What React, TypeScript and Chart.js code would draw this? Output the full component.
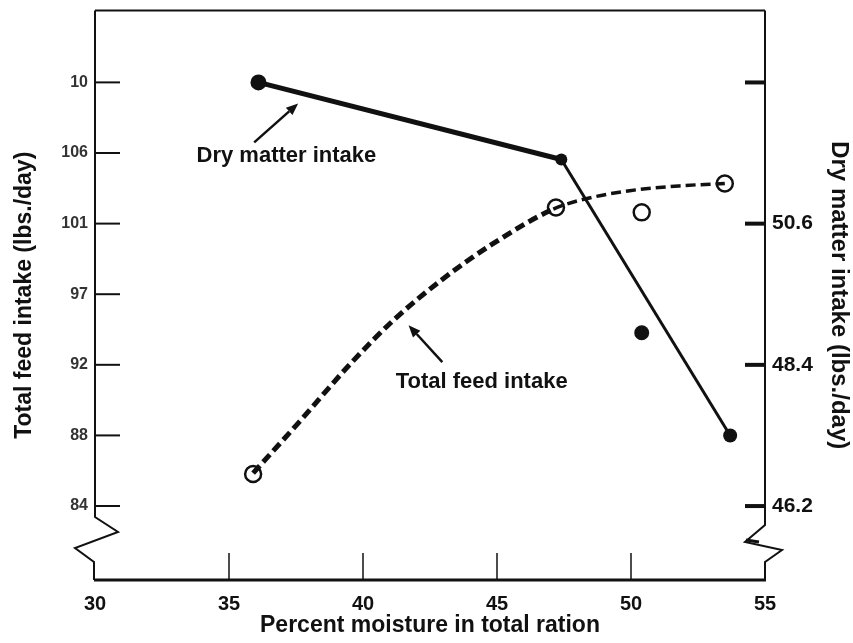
import React, { useEffect, useRef } from "react";
import { Chart, registerables } from "chart.js";

Chart.register(...registerables);

// ---- data ----
const xTickValues = [30, 35, 40, 45, 50, 55];
const leftTickValues = [84, 88.4, 92.8, 97.2, 101.6, 106, 110.4];
const leftTickLabels = ["84", "88", "92", "97", "101", "106", "10"];
const rightTickValues = [46.2, 48.4, 50.6, 52.8];
const rightTickLabels = ["46.2", "48.4", "50.6", ""];

// Dry matter intake (right axis), connected by a solid line
const dryMoisture = [36.1, 47.4, 53.7];
const dryIntake = [52.8, 51.6, 47.3];
// Dry matter intake point off the line
const dryOffMoisture = [50.4];
const dryOffIntake = [48.9];

// Total feed intake observations (left axis), open circles
const feedMoisture = [35.9, 47.2, 50.4, 53.5];
const feedIntake = [86.0, 102.6, 102.3, 104.1];

// Total feed intake fitted curve (dashed)
const feedCurveMoisture = [35.9, 37.6, 39.55, 41.15, 42.9, 44.85, 47.1, 48.2, 49.95, 51.8, 53.5];
const feedCurveIntake = [86.05, 89.2, 92.9, 95.6, 98.05, 100.35, 102.5, 103.1, 103.65, 103.95, 104.1];

const FONT = '"Liberation Sans", Arial, sans-serif';
const INK = "#111";

const xy = (xs: number[], ys: number[]) => xs.map((x, i) => ({ x, y: ys[i] }));

function drawArrow(ctx: CanvasRenderingContext2D, x1: number, y1: number, x2: number, y2: number) {
  const ang = Math.atan2(y2 - y1, x2 - x1);
  const hl = 12;
  const hw = 5;
  const bx = x2 - hl * Math.cos(ang);
  const by = y2 - hl * Math.sin(ang);
  ctx.lineWidth = 2.5;
  ctx.beginPath();
  ctx.moveTo(x1, y1);
  ctx.lineTo(bx, by);
  ctx.stroke();
  ctx.beginPath();
  ctx.moveTo(x2, y2);
  ctx.lineTo(bx + hw * Math.sin(ang), by - hw * Math.cos(ang));
  ctx.lineTo(bx - hw * Math.sin(ang), by + hw * Math.cos(ang));
  ctx.closePath();
  ctx.fill();
}

// annotation anchors in data coordinates (x: moisture, y: left axis)
const annotationItems = [
  { text: "Dry matter intake", tx: 33.79, ty: 105.42, ax1: 35.94, ay1: 106.66, ax2: 37.58, ay2: 109.09 },
  { text: "Total feed intake", tx: 41.22, ty: 91.35, ax1: 42.96, ay1: 92.97, ax2: 41.7, ay2: 95.27 },
];

const framePlugin = {
  id: "frame",
  afterDraw(chart: any) {
    const ctx: CanvasRenderingContext2D = chart.ctx;
    const { left: L, right: R, top: T, bottom: B } = chart.chartArea;
    const xs = chart.scales.x;
    const yl = chart.scales.yLeft;
    const yr = chart.scales.yRight;
    ctx.save();
    ctx.strokeStyle = INK;
    ctx.fillStyle = INK;
    ctx.lineCap = "butt";
    ctx.lineJoin = "miter";

    // top line
    ctx.lineWidth = 2;
    ctx.beginPath();
    ctx.moveTo(L, T);
    ctx.lineTo(R, T);
    ctx.stroke();

    // bottom line
    ctx.lineWidth = 3;
    ctx.beginPath();
    ctx.moveTo(L - 1, B);
    ctx.lineTo(R + 1, B);
    ctx.stroke();

    // left axis with break
    ctx.lineWidth = 2;
    ctx.beginPath();
    ctx.moveTo(L, T);
    ctx.lineTo(L, B - 63);
    ctx.lineTo(L + 23, B - 48);
    ctx.lineTo(L - 20, B - 32);
    ctx.lineTo(L - 1, B - 18);
    ctx.lineTo(L - 1, B);
    ctx.stroke();

    // right axis with break
    ctx.beginPath();
    ctx.moveTo(R, T);
    ctx.lineTo(R, B - 55);
    ctx.lineTo(R - 20, B - 38);
    ctx.lineTo(R + 17, B - 30);
    ctx.lineTo(R, B - 18);
    ctx.lineTo(R, B);
    ctx.stroke();
    ctx.lineWidth = 3;
    ctx.beginPath();
    ctx.moveTo(R - 19, B - 40);
    ctx.lineTo(R - 6, B - 38);
    ctx.stroke();

    // left ticks (inward)
    ctx.lineWidth = 2;
    for (const v of leftTickValues) {
      const y = yl.getPixelForValue(v);
      ctx.beginPath();
      ctx.moveTo(L, y);
      ctx.lineTo(L + 25, y);
      ctx.stroke();
    }
    // right ticks (inward, heavy)
    ctx.lineWidth = 4;
    for (const v of rightTickValues) {
      const y = yr.getPixelForValue(v);
      ctx.beginPath();
      ctx.moveTo(R - 20, y);
      ctx.lineTo(R, y);
      ctx.stroke();
    }
    // x ticks (inward)
    ctx.lineWidth = 1.5;
    for (const v of xTickValues.slice(1, -1)) {
      const x = xs.getPixelForValue(v);
      ctx.beginPath();
      ctx.moveTo(x, B);
      ctx.lineTo(x, B - 27);
      ctx.stroke();
    }

    // annotations
    ctx.font = `bold 22px ${FONT}`;
    ctx.textAlign = "left";
    ctx.textBaseline = "alphabetic";
    for (const a of annotationItems) {
      ctx.fillText(a.text, xs.getPixelForValue(a.tx), yl.getPixelForValue(a.ty));
      drawArrow(
        ctx,
        xs.getPixelForValue(a.ax1),
        yl.getPixelForValue(a.ay1),
        xs.getPixelForValue(a.ax2),
        yl.getPixelForValue(a.ay2)
      );
    }
    ctx.restore();
  },
};

const noPad = (s: any) => {
  s.paddingTop = 0;
  s.paddingBottom = 0;
  s.paddingLeft = 0;
  s.paddingRight = 0;
};

export default function App() {
  const ref = useRef<HTMLCanvasElement>(null);
  useEffect(() => {
    const canvas = ref.current!;
    const chart = new Chart(canvas, {
      type: "scatter",
      data: {
        datasets: [
          {
            label: "Total feed intake curve",
            data: xy(feedCurveMoisture, feedCurveIntake),
            yAxisID: "yLeft",
            showLine: true,
            borderColor: INK,
            borderWidth: 5,
            borderDash: [10, 5],
            cubicInterpolationMode: "monotone",
            pointRadius: 0,
            segment: {
              borderWidth: (c: any) => (c.p0.parsed.x < 45 ? 5 : 3.5),
            },
          } as any,
          {
            label: "Dry matter intake",
            data: xy(dryMoisture, dryIntake),
            yAxisID: "yRight",
            showLine: true,
            borderColor: INK,
            borderWidth: 4,
            tension: 0,
            pointRadius: [8, 6, 7],
            pointBackgroundColor: INK,
            pointBorderColor: INK,
            pointBorderWidth: 0,
            segment: {
              borderWidth: (c: any) => (c.p0DataIndex === 0 ? 5 : 3),
            },
          } as any,
          {
            label: "Dry matter intake (off line)",
            data: xy(dryOffMoisture, dryOffIntake),
            yAxisID: "yRight",
            showLine: false,
            pointRadius: 7.5,
            pointBackgroundColor: INK,
            pointBorderColor: INK,
            pointBorderWidth: 0,
          },
          {
            label: "Total feed intake",
            data: xy(feedMoisture, feedIntake),
            yAxisID: "yLeft",
            showLine: false,
            pointRadius: 8,
            pointBackgroundColor: "#fff",
            pointBorderColor: INK,
            pointBorderWidth: 2.5,
          },
        ],
      },
      options: {
        animation: false,
        responsive: false,
        devicePixelRatio: 1,
        layout: { padding: { top: 10, left: 0, right: 0, bottom: 0 } },
        plugins: { legend: { display: false }, tooltip: { enabled: false } },
        scales: {
          x: {
            type: "linear",
            position: "bottom",
            min: 30,
            max: 55,
            afterBuildTicks: (s: any) => {
              s.ticks = xTickValues.map((v) => ({ value: v }));
            },
            afterFit: (s: any) => {
              s.height = 63;
              noPad(s);
            },
            grid: { display: false, drawTicks: false },
            border: { display: false },
            ticks: {
              padding: 12,
              color: INK,
              autoSkip: false,
              maxRotation: 0,
              font: { family: FONT, size: 20, weight: "bold" },
              callback: (v: any) => String(v),
            },
            title: {
              display: true,
              text: "Percent moisture in total ration",
              color: INK,
              font: { family: FONT, size: 23, weight: "bold" },
              padding: { top: 0, bottom: 4 },
            },
          },
          yLeft: {
            type: "linear",
            position: "left",
            min: 79.39,
            max: 114.88,
            afterBuildTicks: (s: any) => {
              s.ticks = leftTickValues.map((v) => ({ value: v }));
            },
            afterFit: (s: any) => {
              s.width = 95;
              noPad(s);
            },
            grid: { display: false, drawTicks: false },
            border: { display: false },
            ticks: {
              padding: 7,
              color: "#333",
              autoSkip: false,
              font: { family: FONT, size: 16, weight: "bold" },
              callback: (_v: any, i: number) => leftTickLabels[i],
            },
            title: {
              display: true,
              text: "Total feed intake (lbs./day)",
              color: INK,
              font: { family: FONT, size: 23, weight: "bold" },
              padding: { top: 11, bottom: 0 },
            },
          },
          yRight: {
            type: "linear",
            position: "right",
            min: 45.048,
            max: 53.921,
            afterBuildTicks: (s: any) => {
              s.ticks = rightTickValues.map((v) => ({ value: v }));
            },
            afterFit: (s: any) => {
              s.width = 88;
              noPad(s);
            },
            grid: { display: false, drawTicks: false },
            border: { display: false },
            ticks: {
              padding: 7,
              color: INK,
              autoSkip: false,
              font: { family: FONT, size: 21, weight: "bold" },
              callback: (_v: any, i: number) => rightTickLabels[i],
            },
            title: {
              display: true,
              text: "Dry matter intake (lbs./day)",
              color: INK,
              font: { family: FONT, size: 24, weight: "bold" },
              padding: { top: 0, bottom: 0 },
            },
          },
        },
      },
      plugins: [framePlugin],
    });
    return () => chart.destroy();
  }, []);

  return (
    <div style={{ position: "absolute", left: 0, top: 0, width: 853, height: 643, background: "#fff" }}>
      <canvas ref={ref} width={853} height={643} style={{ display: "block", width: 853, height: 643 }} />
    </div>
  );
}
